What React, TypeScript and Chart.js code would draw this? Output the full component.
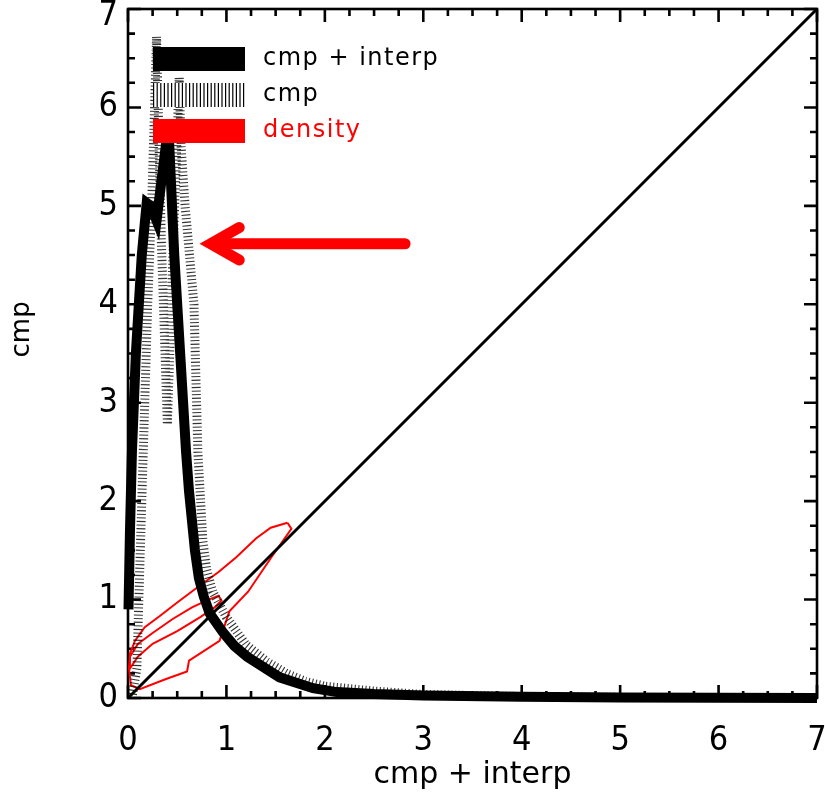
import React, { useEffect, useRef } from "react";
import { Chart, registerables } from "chart.js";

Chart.register(...registerables);

// ---------- data ----------
const axisMin = 0;
const axisMax = 7;
const majorTicks = [0, 1, 2, 3, 4, 5, 6, 7];
const minorStep = 0.25;

const xTitle = "cmp + interp";
const yTitle = "cmp";
const legendLabels = ["cmp + interp", "cmp", "density"];

// "cmp + interp" (thick black)
const interpX = [0.005, 0.02, 0.04, 0.08, 0.14, 0.19, 0.23, 0.29, 0.41, 0.47, 0.53, 0.59, 0.62, 0.65, 0.68, 0.72, 0.77, 0.83, 0.97, 1.08, 1.21, 1.54, 1.88, 2.12, 2.5, 3.0, 4.0, 5.0, 6.0, 7.0];
const interpY = [0.9, 1.7, 2.5, 3.5, 4.5, 5.03, 5.0, 4.85, 5.82, 4.5, 3.5, 2.5, 2.1, 1.8, 1.5, 1.22, 1.03, 0.86, 0.66, 0.53, 0.42, 0.21, 0.1, 0.06, 0.04, 0.025, 0.012, 0.005, 0.002, 0.0];

// "cmp" (hatched)
const cmpX = [0.04, 0.09, 0.11, 0.14, 0.17, 0.2, 0.24, 0.27, 0.29, 0.34, 0.4, 0.46, 0.52, 0.54, 0.58, 0.67, 0.71, 0.76, 0.8, 0.86, 1.0, 1.2, 1.41, 1.61, 1.8, 2.0, 2.5, 3.0, 4.0, 5.0, 6.0, 7.0];
const cmpY = [0.0, 0.3, 1.0, 2.0, 3.0, 4.0, 5.0, 6.0, 6.72, 4.6, 2.78, 4.6, 6.3, 5.6, 5.0, 4.0, 2.5, 1.6, 1.3, 1.08, 0.82, 0.54, 0.37, 0.25, 0.17, 0.12, 0.07, 0.035, 0.015, 0.006, 0.002, 0.0];

// density contours (red)
const densOuterX = [1.62, 1.45, 1.3, 1.1, 0.92, 0.7, 0.5, 0.32, 0.17, 0.07, 0.02, 0.01, 0.03, 0.12, 0.38, 0.6, 0.62, 0.93, 1.03, 1.22, 1.45, 1.66, 1.62];
const densOuterY = [1.78, 1.73, 1.62, 1.43, 1.28, 1.12, 0.97, 0.83, 0.72, 0.58, 0.45, 0.3, 0.13, 0.09, 0.19, 0.27, 0.38, 0.58, 0.88, 1.08, 1.42, 1.72, 1.78];
const densInnerX = [0.02, 0.1, 0.25, 0.45, 0.65, 0.82, 0.92, 0.95, 0.88, 0.73, 0.5, 0.25, 0.1, 0.02, 0.02];
const densInnerY = [0.42, 0.55, 0.66, 0.8, 0.92, 1.0, 1.04, 0.99, 0.92, 0.82, 0.68, 0.55, 0.42, 0.3, 0.42];

// one-to-one line
const diagX = [0, 7];
const diagY = [0, 7];

// red arrow
const arrowShaftX = [2.815, 0.86];
const arrowShaftY = [4.615, 4.615];
const arrowHeadX = [1.13, 0.84, 1.13];
const arrowHeadY = [4.78, 4.615, 4.45];

const toPts = (xs: number[], ys: number[]) => xs.map((x, i) => ({ x, y: ys[i] }));

const TICK_FONT = "'Liberation Sans Narrow', 'DejaVu Sans Condensed', 'Liberation Sans', sans-serif";
const TEXT_FONT = "'DejaVu Sans', sans-serif";

const framePlugin = {
  id: "frame",
  beforeDatasetsDraw(chart: any) {
    const { ctx, chartArea, scales } = chart;
    const { left, right, top, bottom } = chartArea;
    const xs = scales.x;
    const ys = scales.y;
    ctx.save();
    ctx.strokeStyle = "#000";
    ctx.lineWidth = 2.6;
    ctx.lineCap = "butt";
    ctx.strokeRect(left, top, right - left, bottom - top);
    const n = Math.round((axisMax - axisMin) / minorStep);
    for (let i = 0; i <= n; i++) {
      const v = axisMin + i * minorStep;
      const major = Math.abs(v - Math.round(v)) < 1e-9;
      const len = major ? 13 : 7;
      const px = xs.getPixelForValue(v);
      const py = ys.getPixelForValue(v);
      ctx.beginPath();
      ctx.moveTo(px, bottom);
      ctx.lineTo(px, bottom - len);
      ctx.moveTo(px, top);
      ctx.lineTo(px, top + len);
      ctx.moveTo(left, py);
      ctx.lineTo(left + len, py);
      ctx.moveTo(right, py);
      ctx.lineTo(right - len, py);
      ctx.stroke();
    }
    ctx.restore();
  },
  afterDraw(chart: any) {
    // y axis title, placed like the original (slightly above centre)
    const { ctx, chartArea } = chart;
    ctx.save();
    ctx.translate(22, chartArea.top + (chartArea.bottom - chartArea.top) * 0.465);
    ctx.rotate(-Math.PI / 2);
    ctx.font = `26px ${TEXT_FONT}`;
    ctx.fillStyle = "#000";
    ctx.textAlign = "center";
    ctx.textBaseline = "middle";
    ctx.fillText(yTitle, 0, 0);
    ctx.restore();
  },
};

const legendPlugin = {
  id: "boxLegend",
  afterDatasetsDraw(chart: any) {
    const { ctx, chartArea } = chart;
    const { left, top } = chartArea;
    const bx = left + 25;
    const bw = 92;
    const bh = 24;
    const rows = [top + 38, top + 74, top + 110];
    ctx.save();
    ctx.fillStyle = "#000";
    ctx.fillRect(bx, rows[0], bw, bh);
    ctx.fillStyle = "#fff";
    ctx.fillRect(bx, rows[1], bw, bh);
    ctx.strokeStyle = "#000";
    ctx.lineWidth = 1.2;
    for (let xx = bx + 0.6; xx < bx + bw; xx += 3.6) {
      ctx.beginPath();
      ctx.moveTo(xx, rows[1]);
      ctx.lineTo(xx, rows[1] + bh);
      ctx.stroke();
    }
    ctx.fillStyle = "#ff0000";
    ctx.fillRect(bx, rows[2], bw, bh);
    ctx.font = `24px ${TEXT_FONT}`;
    (ctx as any).letterSpacing = "1.5px";
    ctx.textBaseline = "middle";
    ctx.textAlign = "left";
    const colors = ["#000", "#000", "#ff0000"];
    legendLabels.forEach((t, i) => {
      ctx.fillStyle = colors[i];
      ctx.fillText(t, left + 135, rows[i] + bh / 2);
    });
    ctx.restore();
  },
};

export default function App() {
  const ref = useRef<HTMLCanvasElement | null>(null);
  useEffect(() => {
    document.body.style.margin = "0";
    const canvas = ref.current;
    if (!canvas) return;
    const tickFont = (c: any) => ({
      family: TICK_FONT,
      size: 34,
      weight: "normal",
      lineHeight: c && c.tick && c.tick.value === axisMax && c.scale && c.scale.axis === "y" ? 0.4 : 1,
    });
    const chart = new Chart(canvas, {
      type: "scatter",
      data: {
        datasets: [
          {
            label: "arrow shaft",
            data: toPts(arrowShaftX, arrowShaftY),
            showLine: true,
            borderColor: "#ff0000",
            borderWidth: 11,
            borderCapStyle: "round",
            pointRadius: 0,
            order: 0,
          },
          {
            label: "arrow head",
            data: toPts(arrowHeadX, arrowHeadY),
            showLine: true,
            borderColor: "#ff0000",
            borderWidth: 11,
            borderCapStyle: "round",
            borderJoinStyle: "miter",
            pointRadius: 0,
            order: 0,
          },
          {
            label: "cmp + interp",
            data: toPts(interpX, interpY),
            showLine: true,
            borderColor: "#000",
            borderWidth: 10,
            borderJoinStyle: "miter",
            pointRadius: 0,
            clip: false,
            order: 1,
          },
          {
            label: "cmp",
            data: toPts(cmpX, cmpY),
            showLine: true,
            borderColor: "rgba(0,0,0,0.8)",
            borderWidth: 9,
            borderDash: [1.1, 2.5],
            borderCapStyle: "butt",
            pointRadius: 0,
            order: 2,
          },
          {
            label: "one-to-one",
            data: toPts(diagX, diagY),
            showLine: true,
            borderColor: "#000",
            borderWidth: 3,
            pointRadius: 0,
            order: 3,
          },
          {
            label: "density outer",
            data: toPts(densOuterX, densOuterY),
            showLine: true,
            borderColor: "#ff0000",
            borderWidth: 2,
            pointRadius: 0,
            order: 4,
          },
          {
            label: "density inner",
            data: toPts(densInnerX, densInnerY),
            showLine: true,
            borderColor: "#ff0000",
            borderWidth: 2,
            pointRadius: 0,
            order: 4,
          },
        ],
      },
      options: {
        animation: false,
        responsive: false,
        devicePixelRatio: 1,
        layout: { padding: { top: 9, right: 8, left: 0, bottom: 0 } },
        elements: { line: { tension: 0 }, point: { radius: 0 } },
        plugins: { legend: { display: false }, tooltip: { enabled: false } },
        scales: {
          x: {
            type: "linear",
            min: axisMin,
            max: axisMax,
            afterBuildTicks: (s: any) => {
              s.ticks = majorTicks.map((v) => ({ value: v }));
            },
            ticks: {
              color: "#000",
              padding: 26,
              font: tickFont,
            },
            grid: { display: false, drawTicks: false },
            border: { display: false },
            title: {
              display: true,
              text: xTitle,
              color: "#000",
              font: { family: TEXT_FONT, size: 30 },
              padding: { top: 0, bottom: 0 },
            },
            afterFit: (s: any) => {
              s.height = 95;
              s.paddingLeft = 0;
              s.paddingRight = 0;
            },
          },
          y: {
            type: "linear",
            min: axisMin,
            max: axisMax,
            afterBuildTicks: (s: any) => {
              s.ticks = majorTicks.map((v) => ({ value: v }));
            },
            ticks: {
              color: "#000",
              padding: 10,
              font: tickFont,
              callback: (v: any) => (v === axisMax ? ["", String(v)] : String(v)),
            },
            grid: { display: false, drawTicks: false },
            border: { display: false },
            title: { display: false },
            afterFit: (s: any) => {
              s.width = 128;
              s.paddingTop = 0;
              s.paddingBottom = 0;
            },
          },
        },
      },
      plugins: [framePlugin, legendPlugin],
    } as any);
    return () => chart.destroy();
  }, []);
  return <canvas ref={ref} width={825} height={793} style={{ display: "block" }} />;
}
